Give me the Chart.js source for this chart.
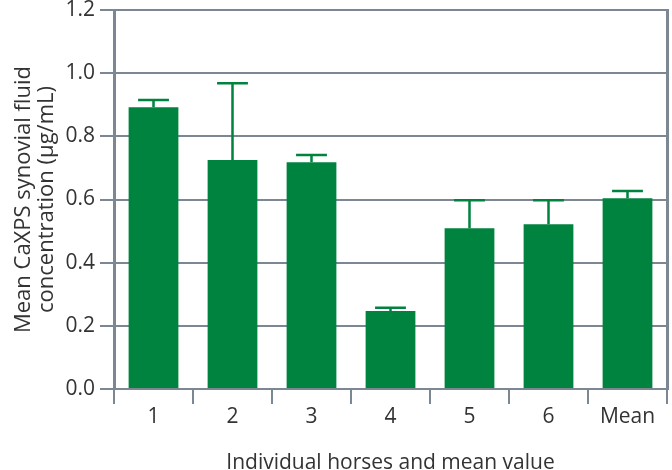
<!DOCTYPE html>
<html>
<head>
<meta charset="utf-8">
<script src="https://cdn.jsdelivr.net/npm/chart.js"></script>
<style>
  html, body { margin: 0; padding: 0; background: #ffffff; }
  #wrap { width: 672px; height: 470px; position: relative; }
</style>
</head>
<body>
<div id="wrap"><canvas id="caxpsChart"></canvas></div>
<script>
// Mean CaXPS synovial fluid concentration per horse, plus the overall mean
const horseLabels = ['1', '2', '3', '4', '5', '6', 'Mean'];
const meanConcentration = [0.892, 0.725, 0.718, 0.247, 0.509, 0.522, 0.604];
const errorUpper = [0.915, 0.968, 0.741, 0.257, 0.598, 0.598, 0.627];
const yTicks = [0.0, 0.2, 0.4, 0.6, 0.8, 1.0, 1.2];

const barGreen = '#00833e';
const axisGrey = '#7b8893';
const textColor = '#333333';

// Draws the upper error whisker with a cap above each bar
const errorBarPlugin = {
    id: 'errorBars',
    afterDatasetsDraw(chart) {
        const ctx = chart.ctx;
        const meta = chart.getDatasetMeta(0);
        const yScale = chart.scales.y;
        ctx.save();
        ctx.strokeStyle = barGreen;
        ctx.lineWidth = 2.5;
        meta.data.forEach(function(bar, i) {
            const x = bar.x;
            const yTop = yScale.getPixelForValue(errorUpper[i]);
            const yBar = yScale.getPixelForValue(meanConcentration[i]);
            const capHalf = bar.width * 0.31;
            ctx.beginPath();
            ctx.moveTo(x, yBar);
            ctx.lineTo(x, yTop);
            ctx.moveTo(x - capHalf, yTop);
            ctx.lineTo(x + capHalf, yTop);
            ctx.stroke();
        });
        ctx.restore();
    }
};

new Chart(document.getElementById('caxpsChart'), {
    type: 'bar',
    data: {
        labels: horseLabels,
        datasets: [{
            data: meanConcentration,
            backgroundColor: barGreen,
            borderWidth: 0,
            categoryPercentage: 1.0,
            barPercentage: 0.63
        }]
    },
    options: {
        responsive: true,
        maintainAspectRatio: false,
        animation: false,
        layout: { padding: { top: 10, right: 5, bottom: 0, left: 0 } },
        plugins: {
            legend: { display: false },
            tooltip: { enabled: false }
        },
        scales: {
            x: {
                grid: {
                    offset: true,
                    drawOnChartArea: false,
                    drawTicks: true,
                    tickLength: 15,
                    color: axisGrey,
                    lineWidth: 2
                },
                border: { display: true, color: axisGrey, width: 2 },
                ticks: {
                    color: textColor,
                    padding: 0,
                    font: { family: 'Open Sans', size: 21 }
                },
                title: {
                    display: true,
                    text: 'Individual horses and mean value',
                    color: textColor,
                    font: { family: 'Open Sans', size: 21, lineHeight: 1.2 },
                    padding: { top: 0, bottom: -6 }
                },
                afterFit(scale) {
                    scale.height = 81;
                    scale.paddingLeft = 0;
                    scale.paddingRight = 0;
                }
            },
            y: {
                min: 0,
                max: 1.2,
                afterBuildTicks(scale) {
                    scale.ticks = yTicks.map(function(v) { return { value: v }; });
                },
                grid: {
                    color: axisGrey,
                    lineWidth: 2,
                    drawTicks: true,
                    tickLength: 14
                },
                border: { display: true, color: axisGrey, width: 3 },
                ticks: {
                    color: textColor,
                    padding: 5,
                    font: { family: 'Open Sans', size: 21 },
                    callback: function(value) { return value.toFixed(1); }
                },
                title: {
                    display: true,
                    text: ['Mean CaXPS synovial fluid', 'concentration (\u00b5g/mL)'],
                    color: textColor,
                    font: { family: 'Open Sans', size: 22, lineHeight: 1.05 },
                    padding: { top: 12, bottom: 0 }
                },
                afterFit(scale) {
                    scale.width = 114;
                    scale.paddingTop = 0;
                    scale.paddingBottom = 0;
                }
            },
            yRight: {
                position: 'right',
                min: 0,
                max: 1.2,
                grid: { display: false },
                ticks: { display: false },
                border: { display: true, color: axisGrey, width: 3 },
                afterFit(scale) {
                    scale.width = 0;
                    scale.paddingTop = 0;
                    scale.paddingBottom = 0;
                }
            }
        }
    },
    plugins: [errorBarPlugin]
});
</script>
</body>
</html>
